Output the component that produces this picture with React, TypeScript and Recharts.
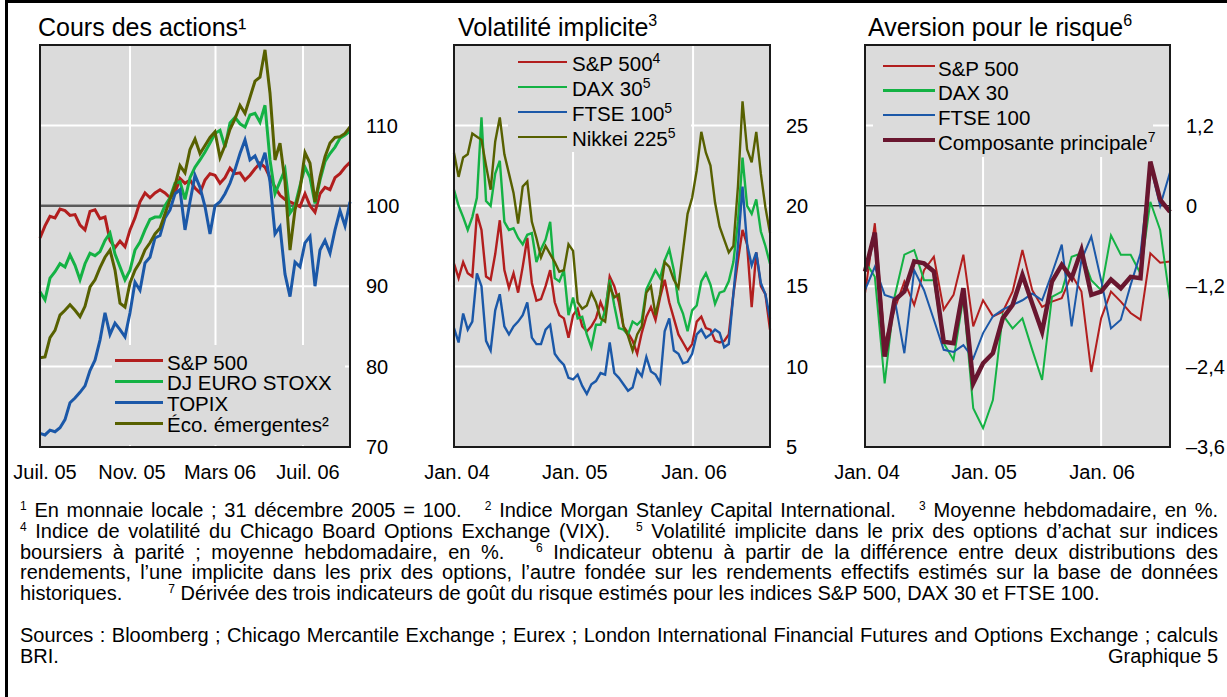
import React from 'react';
import { LineChart, Line, XAxis, YAxis, CartesianGrid, ReferenceLine, ReferenceArea } from 'recharts';

const FONT = '"Liberation Sans", Arial, Helvetica, sans-serif';
const BG = '#DBDBDB';
const RED = '#B21E1E';
const GREEN = '#14B244';
const BLUE = '#1B58A8';
const OLIVE = '#576000';
const MAROON = '#69162F';

// ---------- Panel 1 : Cours des actions (weekly, late June 2005 - early Sept 2006)
const stockTickPos = [1.0, 18.4, 36.0, 53.6];
const stockTickLabels = ['Juil. 05', 'Nov. 05', 'Mars 06', 'Juil. 06'];
const stockGridX = [18, 35.1, 52.6];
const stockYTicks = [70, 80, 90, 100, 110];
const stockYLabels = ['70', '80', '90', '100', '110'];
const stockSp500 = [96.0, 97.5, 98.7, 98.5, 99.6, 99.4, 98.8, 98.9, 97.6, 97.0, 99.3, 99.5, 98.4, 98.6, 95.7, 94.8, 95.6, 94.9, 97.0, 98.5, 100.5, 101.6, 101.0, 101.6, 102.0, 101.6, 101.0, 101.6, 103.4, 102.8, 103.2, 102.2, 101.6, 103.2, 104.0, 103.8, 102.8, 103.5, 104.7, 104.0, 104.1, 103.2, 103.8, 104.6, 105.3, 104.8, 103.5, 102.3, 101.3, 100.8, 100.5, 100.2, 99.9, 101.5, 100.0, 99.2, 101.5, 102.3, 102.0, 103.5, 104.0, 104.8, 105.4];
const stockDjStoxx = [89.3, 88.3, 91.0, 91.8, 92.8, 92.4, 93.9, 92.6, 90.8, 92.8, 94.1, 93.8, 94.3, 95.7, 96.6, 94.0, 92.4, 90.8, 92.0, 94.5, 95.5, 97.0, 98.3, 98.6, 98.6, 100.0, 101.0, 102.8, 103.0, 100.8, 103.5, 104.8, 105.7, 106.7, 107.8, 109.0, 109.4, 107.3, 110.3, 111.0, 110.2, 109.8, 111.3, 111.5, 110.4, 112.5, 105.7, 101.5, 103.0, 104.5, 99.1, 100.0, 102.5, 104.8, 103.5, 100.3, 103.2, 105.5, 106.5, 107.3, 108.4, 108.8, 109.3];
const stockTopix = [71.7, 71.5, 72.1, 71.9, 72.4, 73.4, 75.5, 76.1, 76.8, 77.6, 79.5, 80.8, 83.3, 86.7, 84.0, 85.4, 84.6, 83.7, 86.7, 90.5, 89.5, 92.9, 93.6, 96.0, 96.3, 98.5, 99.5, 101.5, 102.0, 97.0, 100.5, 103.8, 102.3, 99.9, 96.5, 100.0, 100.5, 101.5, 102.8, 104.5, 106.5, 108.2, 105.7, 106.2, 104.8, 106.6, 103.0, 96.5, 97.4, 91.5, 88.7, 93.0, 92.4, 95.4, 96.2, 90.0, 94.5, 95.7, 94.1, 97.0, 99.4, 97.5, 100.5];
const stockEmerging = [81.1, 81.2, 83.6, 84.5, 86.4, 87.0, 87.7, 87.0, 86.2, 87.5, 89.9, 90.8, 92.3, 93.6, 94.5, 92.0, 87.9, 87.4, 90.4, 92.0, 93.0, 94.5, 95.4, 96.5, 97.2, 99.0, 100.8, 102.5, 105.0, 104.1, 107.0, 108.3, 106.5, 107.5, 108.5, 109.2, 106.0, 107.5, 109.5, 110.8, 112.5, 111.5, 113.5, 115.5, 116.0, 119.4, 114.0, 105.7, 107.8, 103.0, 94.5, 99.5, 102.0, 106.6, 105.3, 100.5, 103.6, 106.1, 107.8, 108.5, 108.6, 109.0, 109.8];
const stockLegend = ['S&P 500', 'DJ EURO STOXX', 'TOPIX', 'Éco. émergentes²'];

// ---------- Panel 2 : Volatilité implicite (bi-weekly, Jan 2004 - Aug 2006)
const volTickPos = [0.65, 26.4, 52.4];
const volTickLabels = ['Jan. 04', 'Jan. 05', 'Jan. 06'];
const volGridX = [26.0, 52.2];
const volYTicks = [5, 10, 15, 20, 25];
const volYLabels = ['5', '10', '15', '20', '25'];
const volSp500 = [16.4, 15.5, 16.5, 15.8, 15.6, 19.5, 18.5, 15.6, 15.4, 17.0, 19.1, 16.0, 14.9, 15.8, 14.6, 16.2, 18.0, 15.2, 14.1, 14.2, 15.0, 16.0, 14.0, 13.2, 13.0, 11.8, 13.2, 13.6, 12.5, 12.2, 12.5, 13.0, 14.0, 13.3, 15.6, 15.0, 14.0, 12.5, 12.1, 11.6, 10.8, 12.1, 13.1, 13.7, 12.9, 14.3, 15.4, 14.0, 13.0, 12.0, 11.5, 11.0, 11.4, 12.8, 13.1, 12.4, 12.3, 11.6, 11.5, 11.6, 12.0, 14.5, 16.6, 18.5, 17.6, 13.7, 17.1, 15.0, 14.5, 12.3];
const volDax = [21.0, 20.0, 19.3, 18.5, 19.3, 20.5, 25.5, 20.3, 20.0, 22.0, 22.8, 19.0, 18.5, 18.6, 18.0, 17.6, 18.2, 18.3, 16.5, 17.3, 17.9, 19.0, 15.5, 15.3, 16.0, 13.2, 14.3, 13.0, 13.1, 12.0, 11.2, 12.6, 12.6, 13.5, 15.4, 13.8, 12.4, 12.3, 12.0, 12.8, 12.6, 12.9, 14.8, 15.4, 16.0, 15.5, 16.6, 17.3, 16.0, 14.0, 13.3, 12.2, 13.5, 13.8, 15.3, 15.8, 15.1, 13.9, 14.6, 14.7, 15.3, 16.5, 19.0, 23.0, 20.0, 19.5, 20.4, 18.4, 17.5, 16.4];
const volFtse = [12.4, 11.5, 13.3, 12.3, 12.8, 15.8, 15.0, 11.6, 11.0, 13.5, 14.5, 12.5, 12.0, 12.5, 12.8, 13.2, 14.0, 11.8, 11.4, 11.4, 12.3, 12.6, 10.8, 10.4, 10.1, 9.3, 9.2, 9.5, 8.8, 8.3, 8.9, 9.1, 9.6, 9.5, 11.5, 9.6, 9.3, 8.9, 8.5, 8.7, 9.8, 9.4, 10.6, 9.7, 9.5, 9.0, 12.2, 13.0, 11.0, 10.8, 10.2, 10.3, 10.8, 12.0, 12.3, 11.8, 12.0, 12.3, 12.1, 11.2, 11.4, 14.5, 17.5, 21.2, 17.6, 16.3, 17.1, 15.2, 14.5, 13.0];
const volNikkei = [23.3, 21.8, 23.0, 23.2, 24.5, 24.3, 24.1, 22.5, 21.0, 24.0, 25.5, 23.2, 22.0, 20.8, 18.9, 21.2, 21.5, 19.0, 18.0, 16.8, 17.5, 17.0, 16.5, 15.9, 16.0, 17.6, 17.2, 14.0, 13.6, 13.8, 14.6, 14.0, 13.0, 12.8, 15.0, 14.3, 14.5, 12.5, 11.9, 11.0, 12.0, 12.5, 14.6, 15.0, 13.2, 14.5, 16.5, 16.2, 15.4, 14.9, 17.2, 19.5, 20.5, 22.2, 24.6, 23.3, 22.5, 20.2, 18.7, 17.9, 17.1, 17.5, 21.2, 26.5, 23.5, 22.7, 24.6, 22.0, 19.9, 18.3];
const volLegend = ['S&P 500', 'DAX 30', 'FTSE 100', 'Nikkei 225'];
const volLegendSup = ['4', '5', '5', '5'];

// ---------- Panel 3 : Aversion pour le risque (monthly, Jan 2004 - Aug 2006)
const riskTickPos = [0.2, 12.1, 24.1];
const riskTickLabels = ['Jan. 04', 'Jan. 05', 'Jan. 06'];
const riskGridX = [12, 24];
const riskYTicks = [-3.6, -2.4, -1.2, 0, 1.2];
const riskYLabels = ['–3,6', '–2,4', '–1,2', '0', '1,2'];
const riskSp500 = [-1.31, -0.26, -2.05, -1.55, -1.13, -1.48, -0.96, -0.76, -1.55, -1.33, -0.73, -1.80, -1.41, -1.65, -1.58, -1.28, -0.66, -1.26, -1.51, -1.43, -1.38, -1.03, -1.28, -2.48, -1.68, -1.28, -1.43, -1.60, -1.70, -0.71, -0.85, -0.83];
const riskDax = [-0.83, -1.06, -2.65, -1.36, -0.73, -0.66, -1.11, -1.11, -2.05, -2.30, -1.36, -3.02, -3.32, -2.90, -1.63, -1.83, -1.68, -2.15, -2.60, -1.36, -1.28, -0.76, -0.71, -1.11, -1.26, -0.44, -0.73, -0.73, -1.01, 0.06, -0.36, -1.41];
const riskFtse = [-1.26, -0.91, -1.33, -1.38, -2.20, -0.96, -1.26, -1.70, -2.15, -2.18, -2.08, -2.28, -1.90, -1.65, -1.55, -1.48, -1.41, -1.31, -1.41, -1.01, -0.58, -1.80, -0.81, -0.46, -1.11, -1.83, -1.70, -1.18, -0.71, 0.60, 0.00, 0.50];
const riskComposite = [-0.98, -0.40, -2.25, -1.41, -1.28, -0.83, -0.86, -0.98, -2.03, -2.05, -1.23, -2.65, -2.35, -2.20, -1.68, -1.48, -1.03, -1.46, -1.88, -1.13, -0.88, -1.08, -0.66, -1.33, -1.28, -1.10, -1.23, -1.06, -1.08, 0.66, 0.09, -0.09];
const riskLegend = ['S&P 500', 'DAX 30', 'FTSE 100', 'Composante principale'];
const riskLegendSup = ['', '', '', '7'];

const stockRows = stockSp500.map((v, i) => ({ i, a: v, b: stockDjStoxx[i], c: stockTopix[i], d: stockEmerging[i] }));
const volRows = volSp500.map((v, i) => ({ i, a: v, b: volDax[i], c: volFtse[i], d: volNikkei[i] }));
const riskRows = riskSp500.map((v, i) => ({ i, a: v, b: riskDax[i], c: riskFtse[i], d: riskComposite[i] }));

type Series = { key: string; color: string; width: number };

type PanelProps = {
  left: number;
  width: number;
  mLeft: number;
  mRight: number;
  yWidth: number;
  rows: any[];
  xMax: number;
  yDomain: [number, number];
  yTicks: number[];
  yLabels: string[];
  xTicks: number[];
  xLabels: string[];
  gridX: number[];
  refY?: number;
  refColor?: string;
  refWidth?: number;
  series: Series[];
};

const tickStyle = { fontSize: 20, fill: '#000', fontFamily: FONT };

function Panel(p: PanelProps) {
  return (
    <div style={{ position: 'absolute', left: p.left, top: 0 }}>
      <LineChart
        width={p.width}
        height={490}
        data={p.rows}
        margin={{ top: 45, left: p.mLeft, right: p.mRight, bottom: 3 }}
        style={{ fontFamily: FONT }}
      >
        <CartesianGrid vertical={false} fill={BG} fillOpacity={1} stroke="#FFFFFF" strokeWidth={2} />
        <XAxis
          type="number"
          dataKey="i"
          domain={[0, p.xMax]}
          ticks={p.xTicks}
          interval={0}
          tickFormatter={(v: number) => {
            const k = p.xTicks.indexOf(v);
            return k >= 0 ? p.xLabels[k] : '';
          }}
          axisLine={false}
          tickLine={false}
          tickSize={0}
          tickMargin={18}
          height={40}
          tick={tickStyle}
        />
        <YAxis
          orientation="right"
          type="number"
          domain={p.yDomain}
          ticks={p.yTicks}
          interval={0}
          tickFormatter={(v: number) => {
            const k = p.yTicks.findIndex((t) => Math.abs(t - v) < 1e-9);
            return k >= 0 ? p.yLabels[k] : '';
          }}
          width={p.yWidth}
          axisLine={false}
          tickLine={false}
          tickSize={0}
          tickMargin={16}
          tick={tickStyle}
        />
        {p.gridX.map((g) => (
          <ReferenceLine key={'g' + g} x={g} stroke="#FFFFFF" strokeWidth={2} zIndex={-90} />
        ))}
        {p.refY !== undefined && (
          <ReferenceLine y={p.refY} stroke={p.refColor} strokeWidth={p.refWidth} zIndex={-80} />
        )}
        {p.series.map((s) => (
          <Line
            key={s.key}
            type="linear"
            dataKey={s.key}
            stroke={s.color}
            strokeWidth={s.width}
            dot={false}
            activeDot={false}
            isAnimationActive={false}
          />
        ))}
        <ReferenceArea
          x1={0}
          x2={p.xMax}
          y1={p.yDomain[0]}
          y2={p.yDomain[1]}
          fill="none"
          stroke="#1A1A1A"
          strokeWidth={2}
          zIndex={1500}
        />
      </LineChart>
    </div>
  );
}

type LegendProps = {
  box: [number, number, number, number];
  swLeft: number;
  swRight: number;
  textLeft: number;
  y0: number;
  step: number;
  baseOff: number;
  labels: string[];
  sups?: string[];
  colors: string[];
  widths: number[];
};

const legendSup: React.CSSProperties = { fontSize: 14, position: 'relative', top: -8, lineHeight: 0 };

function LegendOverlay(l: LegendProps) {
  return (
    <>
      <div style={{ position: 'absolute', left: l.box[0], top: l.box[1], width: l.box[2], height: l.box[3], background: BG }} />
      {l.labels.map((lab, k) => {
        const cy = l.y0 + k * l.step;
        return (
          <React.Fragment key={k}>
            <div
              style={{
                position: 'absolute',
                left: l.swLeft,
                top: cy - l.widths[k] / 2,
                width: l.swRight - l.swLeft,
                height: l.widths[k],
                background: l.colors[k],
              }}
            />
            <div
              style={{
                position: 'absolute',
                left: l.textLeft,
                top: cy + l.baseOff - 17.35,
                fontSize: 20.5,
                lineHeight: '20.5px',
                whiteSpace: 'nowrap',
                color: '#000',
              }}
            >
              {lab}
              {l.sups && l.sups[k] ? <span style={legendSup}>{l.sups[k]}</span> : null}
            </div>
          </React.Fragment>
        );
      })}
    </>
  );
}

const titleSup: React.CSSProperties = { fontSize: 16, position: 'relative', top: -10, lineHeight: 0 };
const noteSup: React.CSSProperties = { fontSize: 12, position: 'relative', top: -7, lineHeight: 0 };
const Sup = ({ n }: { n: string }) => <span style={noteSup}>{n}</span>;

const NOTE_TOP = 500;
const NOTE_LH = 20.75;

function noteLine(k: number, justify: boolean, top = NOTE_TOP): React.CSSProperties {
  return {
    position: 'absolute',
    left: 20,
    top: top + k * NOTE_LH,
    width: 1198,
    fontSize: 20,
    lineHeight: `${NOTE_LH}px`,
    textAlign: justify ? 'justify' : 'left',
    textAlignLast: justify ? 'justify' : 'left',
    color: '#000',
  } as React.CSSProperties;
}

const titleStyle = (left: number): React.CSSProperties => ({
  position: 'absolute',
  left,
  top: 15.4,
  fontSize: 25,
  lineHeight: '25px',
  whiteSpace: 'nowrap',
  color: '#000',
});

export default function App() {
  return (
    <div
      style={{
        position: 'absolute',
        left: 0,
        top: 0,
        width: 1227,
        height: 697,
        background: '#FFFFFF',
        fontFamily: FONT,
        overflow: 'hidden',
      }}
    >
      <div style={{ position: 'absolute', left: 5, top: 0, width: 1240, height: 720, borderLeft: '3px solid #000', borderTop: '3px solid #000', boxSizing: 'border-box' }} />

      <Panel
        left={0}
        width={410}
        mLeft={40}
        mRight={5}
        yWidth={55}
        rows={stockRows}
        xMax={62}
        yDomain={[70, 120]}
        yTicks={stockYTicks}
        yLabels={stockYLabels}
        xTicks={stockTickPos}
        xLabels={stockTickLabels}
        gridX={stockGridX}
        refY={100}
        refColor="#5A5A5A"
        refWidth={2.5}
        series={[
          { key: 'a', color: RED, width: 3 },
          { key: 'b', color: GREEN, width: 3 },
          { key: 'c', color: BLUE, width: 3 },
          { key: 'd', color: OLIVE, width: 3 },
        ]}
      />
      <Panel
        left={410}
        width={410}
        mLeft={44}
        mRight={0}
        yWidth={50}
        rows={volRows}
        xMax={69}
        yDomain={[5, 30]}
        yTicks={volYTicks}
        yLabels={volYLabels}
        xTicks={volTickPos}
        xLabels={volTickLabels}
        gridX={volGridX}
        series={[
          { key: 'a', color: RED, width: 2.4 },
          { key: 'b', color: GREEN, width: 2.4 },
          { key: 'c', color: BLUE, width: 2.4 },
          { key: 'd', color: OLIVE, width: 2.4 },
        ]}
      />
      <Panel
        left={820}
        width={407}
        mLeft={45}
        mRight={0}
        yWidth={57}
        rows={riskRows}
        xMax={31}
        yDomain={[-3.6, 2.4]}
        yTicks={riskYTicks}
        yLabels={riskYLabels}
        xTicks={riskTickPos}
        xLabels={riskTickLabels}
        gridX={riskGridX}
        refY={0}
        refColor="#2A2A2A"
        refWidth={1.5}
        series={[
          { key: 'a', color: RED, width: 2 },
          { key: 'b', color: GREEN, width: 2 },
          { key: 'c', color: BLUE, width: 2 },
          { key: 'd', color: MAROON, width: 4.5 },
        ]}
      />

      {/* titles */}
      <div style={titleStyle(38)}>Cours des actions¹</div>
      <div style={titleStyle(458)}>
        Volatilité implicite<span style={titleSup}>3</span>
      </div>
      <div style={titleStyle(868)}>
        Aversion pour le risque<span style={titleSup}>6</span>
      </div>

      {/* legends */}
      <LegendOverlay
        box={[112, 345, 233, 100]}
        swLeft={115}
        swRight={163}
        textLeft={167}
        y0={360.7}
        step={20.8}
        baseOff={9.3}
        labels={stockLegend}
        colors={[RED, GREEN, BLUE, OLIVE]}
        widths={[3, 3, 3, 3]}
      />
      <LegendOverlay
        box={[508, 46, 183, 106]}
        swLeft={518}
        swRight={567}
        textLeft={572}
        y0={62.3}
        step={24.9}
        baseOff={9.4}
        labels={volLegend}
        sups={volLegendSup}
        colors={[RED, GREEN, BLUE, OLIVE]}
        widths={[2.4, 2.4, 2.4, 2.4]}
      />
      <LegendOverlay
        box={[873, 46, 280, 111]}
        swLeft={883}
        swRight={935}
        textLeft={938}
        y0={65.7}
        step={24.8}
        baseOff={10.3}
        labels={riskLegend}
        sups={riskLegendSup}
        colors={[RED, GREEN, BLUE, MAROON]}
        widths={[2.2, 2.2, 2.2, 4.5]}
      />

      {/* footnotes */}
      <div style={noteLine(0, true)}>
        <Sup n="1" />
        {' En monnaie locale ; 31 décembre 2005 = 100.\u00a0\u00a0 '}
        <Sup n="2" />
        {' Indice Morgan Stanley Capital International.\u00a0\u00a0 '}
        <Sup n="3" />
        {' Moyenne hebdomadaire, en %.'}
      </div>
      <div style={noteLine(1, true)}>
        <Sup n="4" />
        {' Indice de volatilité du Chicago Board Options Exchange (VIX).\u00a0\u00a0 '}
        <Sup n="5" />
        {' Volatilité implicite dans le prix des options d’achat sur indices'}
      </div>
      <div style={noteLine(2, true)}>
        {'boursiers à parité ; moyenne hebdomadaire, en %.\u00a0\u00a0 '}
        <Sup n="6" />
        {' Indicateur obtenu à partir de la différence entre deux distributions des'}
      </div>
      <div style={noteLine(3, true)}>
        {'rendements, l’une implicite dans les prix des options, l’autre fondée sur les rendements effectifs estimés sur la base de données'}
      </div>
      <div style={noteLine(4, false)}>
        {'historiques.'}
        <span style={{ display: 'inline-block', width: 46 }} />
        <Sup n="7" />
        {' Dérivée des trois indicateurs de goût du risque estimés pour les indices S&P 500, DAX 30 et FTSE 100.'}
      </div>
      <div style={noteLine(0, true, 625)}>
        {'Sources : Bloomberg ; Chicago Mercantile Exchange ; Eurex ; London International Financial Futures and Options Exchange ; calculs'}
      </div>
      <div style={noteLine(1, false, 625)}>{'BRI.'}</div>
      <div style={{ ...noteLine(1, false, 625), textAlign: 'right', textAlignLast: 'right' } as React.CSSProperties}>{'Graphique 5'}</div>
    </div>
  );
}
